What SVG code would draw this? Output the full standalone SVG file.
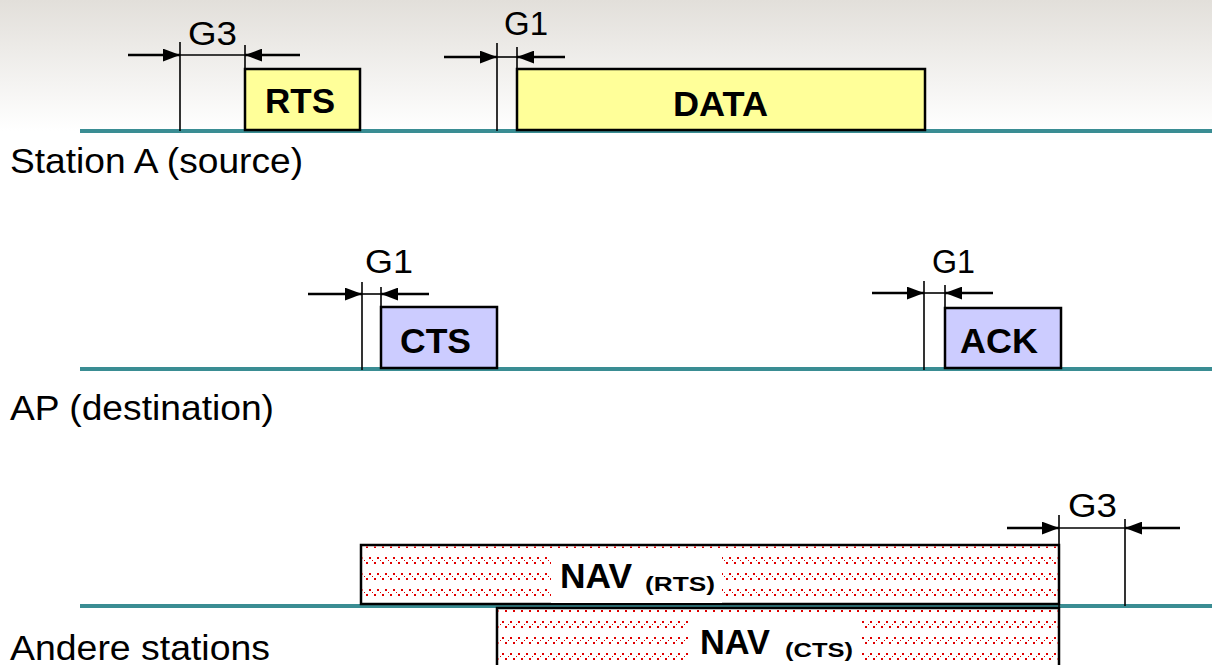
<svg xmlns="http://www.w3.org/2000/svg" width="1212" height="665" viewBox="0 0 1212 665">
<defs>
<linearGradient id="bg" x1="0" y1="0" x2="0" y2="1">
<stop offset="0" stop-color="#e2dfda"/>
<stop offset="1" stop-color="#ffffff"/>
</linearGradient>
<pattern id="hatchB" patternUnits="userSpaceOnUse" x="361" y="541" width="8" height="16">
<rect x="0" y="0" width="1.6" height="1.6" fill="#e00000" shape-rendering="crispEdges"/>
<rect x="2.7" y="2.7" width="1.6" height="1.6" fill="#e00000" shape-rendering="crispEdges"/>
<rect x="5.4" y="5.4" width="1.6" height="1.6" fill="#e00000" shape-rendering="crispEdges"/>
</pattern>
<pattern id="hatchF" patternUnits="userSpaceOnUse" x="497" y="605" width="8" height="16">
<rect x="5.4" y="0" width="1.6" height="1.6" fill="#e00000" shape-rendering="crispEdges"/>
<rect x="2.7" y="2.7" width="1.6" height="1.6" fill="#e00000" shape-rendering="crispEdges"/>
<rect x="0" y="5.4" width="1.6" height="1.6" fill="#e00000" shape-rendering="crispEdges"/>
</pattern>
<marker id="ah" viewBox="0 0 16 12" refX="16" refY="6" markerWidth="17" markerHeight="13" markerUnits="userSpaceOnUse" orient="auto">
<path d="M0,0 L16,6 L0,12 Z" fill="#000"/>
</marker>
<style>
.lbl{font-family:"Liberation Sans",Arial,sans-serif;font-size:35px;fill:#000}
.g{font-family:"Liberation Sans",Arial,sans-serif;font-size:34px;fill:#000}
.b{font-family:"Liberation Sans",Arial,sans-serif;font-size:35px;font-weight:bold;fill:#000}
.s{font-family:"Liberation Sans",Arial,sans-serif;font-size:21px;font-weight:bold;fill:#000}
.teal{stroke:#3a8d93;stroke-width:4;fill:none}
.frm{stroke:#000;stroke-width:2.5}
.dim{stroke:#000;stroke-width:1.6;fill:none}
.arr{stroke:#000;stroke-width:2.5;fill:none;marker-end:url(#ah)}
</style>
</defs>
<rect x="0" y="0" width="1212" height="665" fill="#fff"/>
<rect x="0" y="0" width="1212" height="131" fill="url(#bg)"/>

<g id="timelines">
<line class="teal" x1="80" y1="131" x2="1212" y2="131"/>
<line class="teal" x1="80" y1="369" x2="1212" y2="369"/>
<line class="teal" x1="80" y1="606" x2="1212" y2="606"/>
</g>

<g id="station-labels">
<text class="lbl" x="10" y="173" textLength="293" lengthAdjust="spacingAndGlyphs">Station A (source)</text>
<text class="lbl" x="10" y="420" textLength="264" lengthAdjust="spacingAndGlyphs">AP (destination)</text>
<text class="lbl" x="10" y="660" textLength="260" lengthAdjust="spacingAndGlyphs">Andere stations</text>
</g>

<g id="rts">
<rect class="frm" x="245" y="69" width="115" height="61" fill="#ffff99"/>
<text class="b" x="265" y="113" textLength="70" lengthAdjust="spacingAndGlyphs">RTS</text>
</g>
<g id="data">
<rect class="frm" x="517" y="69" width="408" height="61" fill="#ffff99"/>
<text class="b" x="673" y="116" textLength="95" lengthAdjust="spacingAndGlyphs">DATA</text>
</g>
<g id="cts">
<rect class="frm" x="381" y="307" width="116" height="61" fill="#ccccff"/>
<text class="b" x="400" y="353" textLength="71" lengthAdjust="spacingAndGlyphs">CTS</text>
</g>
<g id="ack">
<rect class="frm" x="945" y="308" width="116" height="60" fill="#ccccff"/>
<text class="b" x="960" y="353" textLength="78" lengthAdjust="spacingAndGlyphs">ACK</text>
</g>
<g id="nav-rts">
<rect class="frm" x="361" y="545" width="698" height="59" fill="#fff"/>
<rect x="362.5" y="546.5" width="695" height="56" fill="url(#hatchB)"/>
<rect x="551" y="550" width="171" height="53" fill="#fff"/>
<text class="b" x="560" y="588" textLength="72" lengthAdjust="spacingAndGlyphs">NAV</text>
<text class="s" x="645" y="591" textLength="70" lengthAdjust="spacingAndGlyphs">(RTS)</text>
</g>
<g id="nav-cts">
<rect class="frm" x="497" y="608" width="562" height="70" fill="#fff"/>
<rect x="498.5" y="609.5" width="559" height="56" fill="url(#hatchF)"/>
<rect x="689" y="614" width="173" height="51" fill="#fff"/>
<text class="b" x="700" y="654" textLength="70" lengthAdjust="spacingAndGlyphs">NAV</text>
<text class="s" x="785" y="657" textLength="68" lengthAdjust="spacingAndGlyphs">(CTS)</text>
</g>

<g id="connectors">
<line class="dim" x1="180" y1="42" x2="180" y2="131"/>
<line class="dim" x1="245" y1="45" x2="245" y2="69"/>
<line class="dim" x1="180" y1="55" x2="245" y2="55"/>
<line class="arr" x1="128" y1="55" x2="180" y2="55"/>
<line class="arr" x1="300" y1="55" x2="245" y2="55"/>
<line class="dim" x1="497" y1="43" x2="497" y2="131"/>
<line class="dim" x1="517" y1="47" x2="517" y2="69"/>
<line class="dim" x1="497" y1="57" x2="517" y2="57"/>
<line class="arr" x1="444" y1="57" x2="497" y2="57"/>
<line class="arr" x1="565" y1="57" x2="517" y2="57"/>
<line class="dim" x1="362" y1="282" x2="362" y2="370"/>
<line class="dim" x1="381" y1="287" x2="381" y2="307"/>
<line class="dim" x1="362" y1="294" x2="381" y2="294"/>
<line class="arr" x1="308" y1="294" x2="362" y2="294"/>
<line class="arr" x1="429" y1="294" x2="381" y2="294"/>
<line class="dim" x1="924" y1="281" x2="924" y2="370"/>
<line class="dim" x1="945" y1="285" x2="945" y2="308"/>
<line class="dim" x1="924" y1="293" x2="945" y2="293"/>
<line class="arr" x1="872" y1="293" x2="924" y2="293"/>
<line class="arr" x1="993" y1="293" x2="945" y2="293"/>
<line class="dim" x1="1059" y1="515" x2="1059" y2="665"/>
<line class="dim" x1="1125" y1="519" x2="1125" y2="606"/>
<line class="dim" x1="1059" y1="528" x2="1125" y2="528"/>
<line class="arr" x1="1007" y1="528" x2="1059" y2="528"/>
<line class="arr" x1="1180" y1="528" x2="1125" y2="528"/>
</g>

<g id="gap-labels">
<text class="g" x="188" y="45" textLength="49" lengthAdjust="spacingAndGlyphs">G3</text>
<text class="g" x="504" y="35" textLength="44" lengthAdjust="spacingAndGlyphs">G1</text>
<text class="g" x="365" y="273" textLength="48" lengthAdjust="spacingAndGlyphs">G1</text>
<text class="g" x="932" y="273" textLength="43" lengthAdjust="spacingAndGlyphs">G1</text>
<text class="g" x="1068" y="517" textLength="49" lengthAdjust="spacingAndGlyphs">G3</text>
</g>
</svg>
